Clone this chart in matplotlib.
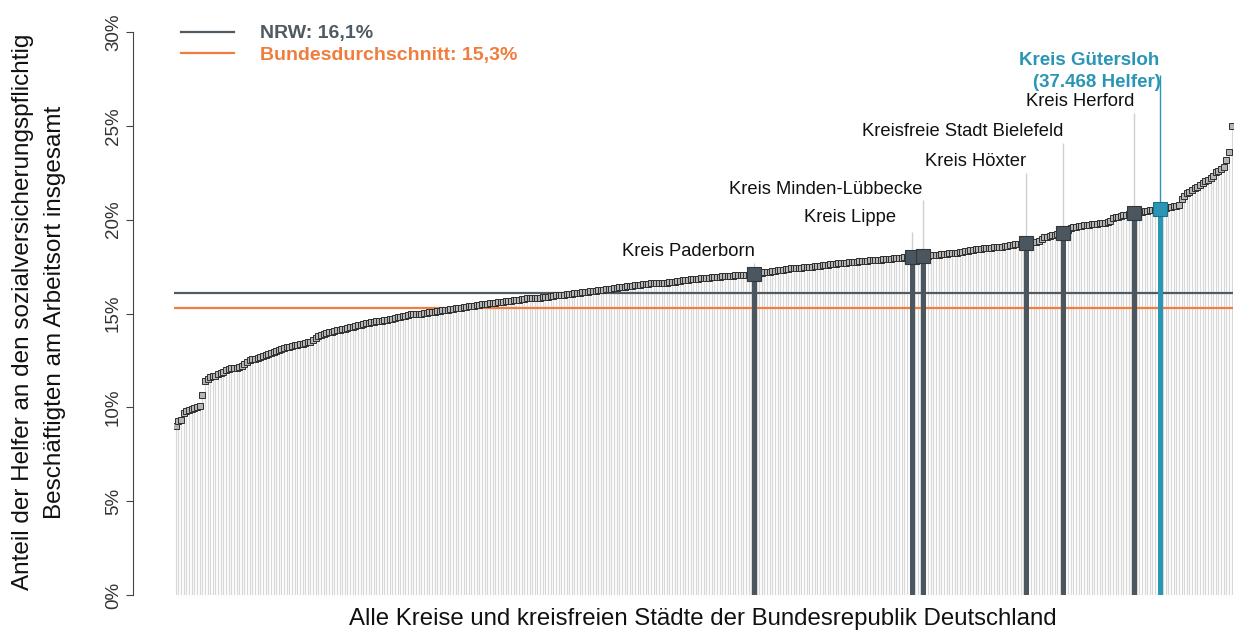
import numpy as np
import matplotlib
matplotlib.use("Agg")
import matplotlib.pyplot as plt

plt.rcParams['font.family'] = ['Liberation Sans', 'DejaVu Sans']

# Anteil der Helfer je Kreis (%), aufsteigend sortiert
shares = [
    9.0, 9.25, 9.35, 9.7, 9.8, 9.85, 9.9, 9.95, 10.0, 10.05,
    10.65, 11.4, 11.5, 11.6, 11.65, 11.65, 11.75, 11.85, 11.9, 12.0,
    12.05, 12.1, 12.1, 12.1, 12.15, 12.2, 12.3, 12.4, 12.5, 12.55,
    12.6, 12.65, 12.7, 12.75, 12.8, 12.85, 12.9, 12.95, 13.0, 13.05,
    13.1, 13.15, 13.2, 13.2, 13.25, 13.3, 13.3, 13.35, 13.4, 13.45,
    13.5, 13.5, 13.6, 13.7, 13.8, 13.85, 13.9, 13.95, 14.0, 14.0,
    14.05, 14.1, 14.1, 14.15, 14.2, 14.25, 14.3, 14.3, 14.35, 14.4,
    14.4, 14.45, 14.5, 14.5, 14.55, 14.55, 14.6, 14.6, 14.6, 14.65,
    14.65, 14.7, 14.7, 14.75, 14.8, 14.8, 14.85, 14.85, 14.9, 14.95,
    14.95, 15.0, 15.0, 15.0, 15.05, 15.05, 15.1, 15.1, 15.1, 15.15,
    15.15, 15.2, 15.2, 15.2, 15.25, 15.25, 15.3, 15.3, 15.3, 15.35,
    15.35, 15.4, 15.4, 15.4, 15.45, 15.45, 15.5, 15.5, 15.5, 15.55,
    15.55, 15.55, 15.6, 15.6, 15.6, 15.65, 15.65, 15.65, 15.7, 15.7,
    15.7, 15.75, 15.75, 15.8, 15.8, 15.8, 15.85, 15.85, 15.85, 15.9,
    15.9, 15.9, 15.95, 15.95, 16.0, 16.0, 16.0, 16.0, 16.05, 16.05,
    16.05, 16.1, 16.1, 16.1, 16.15, 16.15, 16.15, 16.2, 16.2, 16.2,
    16.25, 16.25, 16.25, 16.3, 16.3, 16.3, 16.35, 16.35, 16.4, 16.4,
    16.4, 16.45, 16.45, 16.45, 16.5, 16.5, 16.5, 16.55, 16.55, 16.55,
    16.6, 16.6, 16.6, 16.6, 16.65, 16.65, 16.65, 16.7, 16.7, 16.7,
    16.75, 16.75, 16.8, 16.8, 16.8, 16.85, 16.85, 16.85, 16.85, 16.9,
    16.9, 16.9, 16.9, 16.95, 16.95, 16.95, 16.95, 17.0, 17.0, 17.0,
    17.0, 17.0, 17.05, 17.05, 17.05, 17.05, 17.05, 17.05, 17.1, 17.1,
    17.1, 17.15, 17.15, 17.2, 17.2, 17.2, 17.25, 17.25, 17.3, 17.3,
    17.3, 17.35, 17.35, 17.4, 17.4, 17.4, 17.45, 17.45, 17.5, 17.5,
    17.5, 17.5, 17.55, 17.55, 17.55, 17.6, 17.6, 17.6, 17.65, 17.65,
    17.65, 17.7, 17.7, 17.7, 17.7, 17.75, 17.75, 17.75, 17.75, 17.8,
    17.8, 17.8, 17.8, 17.85, 17.85, 17.85, 17.85, 17.85, 17.9, 17.9,
    17.9, 17.9, 17.95, 17.95, 17.95, 17.95, 18.0, 18.0, 18.0, 18.0,
    18.0, 18.05, 18.05, 18.05, 18.05, 18.05, 18.1, 18.1, 18.1, 18.1,
    18.15, 18.15, 18.15, 18.2, 18.2, 18.25, 18.25, 18.3, 18.3, 18.35,
    18.35, 18.4, 18.4, 18.45, 18.45, 18.45, 18.5, 18.5, 18.5, 18.5,
    18.55, 18.55, 18.55, 18.55, 18.6, 18.6, 18.65, 18.65, 18.7, 18.7,
    18.7, 18.75, 18.75, 18.75, 18.8, 18.8, 18.8, 18.85, 18.95, 19.05,
    19.1, 19.15, 19.2, 19.2, 19.25, 19.25, 19.3, 19.35, 19.45, 19.55,
    19.6, 19.6, 19.65, 19.65, 19.7, 19.7, 19.7, 19.75, 19.75, 19.75,
    19.8, 19.8, 19.8, 19.85, 19.95, 20.1, 20.15, 20.15, 20.2, 20.25,
    20.25, 20.3, 20.3, 20.35, 20.4, 20.4, 20.4, 20.45, 20.45, 20.5,
    20.5, 20.5, 20.5, 20.55, 20.6, 20.6, 20.65, 20.7, 20.75, 20.75,
    20.8, 21.1, 21.25, 21.4, 21.5, 21.6, 21.7, 21.75, 21.85, 21.95,
    22.05, 22.1, 22.2, 22.35, 22.55, 22.6, 22.7, 22.8, 23.2, 23.6,
    25.0,
]

nrw = 16.1
bund = 15.3

# hervorgehobene Kreise: Name, Rang, Label-Hoehe (%), Oberkante Hilfslinie (%)
hl_names = ["Kreis Paderborn", "Kreis Lippe", "Kreis Minden-Lübbecke", "Kreis Höxter",
            "Kreisfreie Stadt Bielefeld", "Kreis Herford"]
hl_index = [219, 279, 283, 322, 336, 363]
hl_label_y = [18.3, 20.1, 21.6, 23.1, 24.7, 26.3]
hl_line_top = [17.7, 19.35, 21.05, 22.5, 24.1, 25.7]
hl_label_x = [219.3, 273.0, 282.8, 322.0, 336.2, 363.2]

gt_name = "Kreis Gütersloh"
gt_sub = "(37.468 Helfer)"
gt_index = 373

dark = '#4b565f'
teal = '#2a96b5'
orange = '#f07d3c'
gray_stem = '#d8d8d8'

fig = plt.figure(figsize=(12.34, 6.30), dpi=100)
ax = fig.add_axes([174 / 1234, 35 / 630, 1059 / 1234, 563 / 630])

x = np.arange(len(shares))
y = np.array(shares)

ax.vlines(x, 0, y, color=gray_stem, lw=0.85, zorder=1)
ax.axhline(nrw, color='#4f5b64', lw=1.6, zorder=2)
ax.axhline(bund, color=orange, lw=1.6, zorder=2)
ax.plot(x, y, 's', ms=5.0, mfc='#b5b5b5', mec='#2e2e2e', mew=0.7, zorder=3)

for name, i, ly, top, lx in zip(hl_names, hl_index, hl_label_y, hl_line_top, hl_label_x):
    ax.vlines(i, 0, y[i], color=dark, lw=3.6, zorder=4)
    ax.vlines(i, y[i], top, color='#cfcfcf', lw=1.0, zorder=1)
    ax.plot(i, y[i], 's', ms=9.5, mfc=dark, mec='#30383e', mew=0.8, zorder=5)
    ax.text(lx, ly, name, ha='right', va='center', fontsize=13.2, color='#111111', clip_on=False)

ax.vlines(gt_index, 0, y[gt_index], color=teal, lw=3.6, zorder=4)
ax.vlines(gt_index, y[gt_index], 27.7, color=teal, lw=1.0, zorder=1)
ax.plot(gt_index, y[gt_index], 's', ms=9.5, mfc=teal, mec='#1f6f87', mew=0.8, zorder=5)
ax.text(gt_index - 0.6, 28.5, gt_name, ha='right', va='center', fontsize=13.5,
        fontweight='bold', color=teal, clip_on=False)
ax.text(gt_index + 0.2, 27.3, gt_sub, ha='right', va='center', fontsize=13.5,
        fontweight='bold', color=teal, clip_on=False)

ax.set_xlim(-0.7, 400.5)
ax.set_ylim(0, 30)
ax.set_xticks([])
for s in ['top', 'right', 'bottom']:
    ax.spines[s].set_visible(False)
ax.spines['left'].set_position(('outward', 29.5))
ax.spines['left'].set_bounds(0, 30)
ax.spines['left'].set_color('#444444')
ax.set_yticks([0, 5, 10, 15, 20, 25, 30])
ax.set_yticklabels(['0%', '5%', '10%', '15%', '20%', '25%', '30%'],
                   rotation=90, va='center', fontsize=13.5, color='#333333')
ax.tick_params(axis='y', length=5, color='#444444', pad=3)

leg = ax.legend([plt.Line2D([], [], color='#4f5b64', lw=1.6),
                 plt.Line2D([], [], color=orange, lw=1.6)],
                ['NRW: 16,1%', 'Bundesdurchschnitt: 15,3%'],
                loc='upper left', bbox_to_anchor=(171 / 1234, 1 - 15 / 630),
                bbox_transform=fig.transFigure, frameon=False, borderpad=0,
                handlelength=2.75, handletextpad=1.35, labelspacing=0.2,
                prop={'size': 14, 'weight': 'bold'})
for t, c in zip(leg.get_texts(), ['#4f5b64', orange]):
    t.set_color(c)

fig.text(703 / 1234, 1 - 619 / 630,
         'Alle Kreise und kreisfreien Städte der Bundesrepublik Deutschland',
         ha='center', va='center', fontsize=17.3, color='#111111')
fig.text(39 / 1234, 1 - 312 / 630,
         'Anteil der Helfer an den sozialversicherungspflichtig\nBeschäftigten am Arbeitsort insgesamt',
         ha='center', va='center', rotation=90, fontsize=17.5, linespacing=1.55,
         color='#111111')

fig.savefig('out.png', dpi=100)
